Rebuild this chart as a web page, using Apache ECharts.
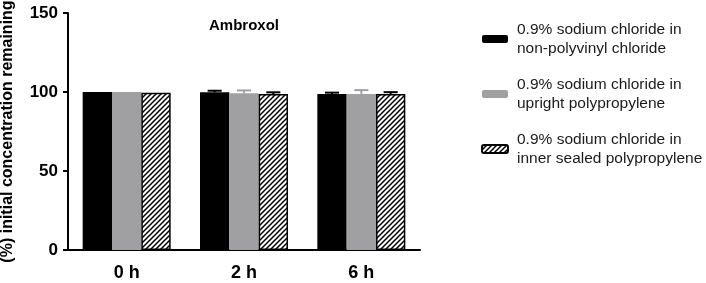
<!DOCTYPE html>
<html>
<head>
<meta charset="utf-8">
<script src="https://cdn.jsdelivr.net/npm/echarts@6/dist/echarts.min.js"></script>
<style>
  html, body { margin: 0; padding: 0; background: #fff; }
  #chartmain { width: 706px; height: 283px; }
</style>
</head>
<body>
<div id="chartmain"></div>
<script>
// categories + tick labels
var categories = ['0 h', '2 h', '6 h'];
var yTicks = [0, 50, 100, 150];

// series names
var seriesNames = [
  '0.9% sodium chloride in\nnon-polyvinyl chloride',
  '0.9% sodium chloride in\nupright polypropylene',
  '0.9% sodium chloride in\ninner sealed polypropylene'
];

// means
var nonPvc = [100, 99.8, 98.8];
var upright = [100, 99.2, 98.8];
var innerSealed = [99.5, 98.7, 98.7];

// SD (upper half only drawn)
var nonPvcErr = [0, 1.0, 0.8];
var uprightErr = [0, 1.8, 2.4];
var innerSealedErr = [0, 1.1, 1.2];

var font = 'Arial, "Liberation Sans", sans-serif';

// hatch pattern for inner sealed pp
function makeHatch() {
  var s = 5;
  var c = document.createElement('canvas');
  c.width = s; c.height = s;
  var ctx = c.getContext('2d');
  ctx.fillStyle = '#fff';
  ctx.fillRect(0, 0, s, s);
  ctx.strokeStyle = '#000';
  ctx.lineWidth = 1.5;
  ctx.beginPath();
  ctx.moveTo(-1, s + 1); ctx.lineTo(s + 1, -1);
  ctx.moveTo(-1, 1); ctx.lineTo(1, -1);
  ctx.moveTo(s - 1, s + 1); ctx.lineTo(s + 1, s - 1);
  ctx.stroke();
  return c;
}
var hatch = { image: makeHatch(), repeat: 'repeat' };

function errSeries(vals, errs, slot, color) {
  var data = vals.map(function (v, i) { return [i, v, errs[i]]; });
  return {
    type: 'custom',
    coordinateSystem: 'cartesian2d',
    z: 10,
    silent: true,
    data: data,
    encode: { x: 0, y: 1 },
    renderItem: function (params, api) {
      var e = api.value(2);
      if (!e) return null;
      var idx = api.value(0), v = api.value(1);
      var band = api.size([1, 0])[0];
      var barW = band * 0.75 / 3;
      var p0 = api.coord([idx, v]);
      var p1 = api.coord([idx, v + e]);
      var x = p0[0] + slot * barW;
      var cap = barW * 0.24;
      return {
        type: 'group',
        children: [
          { type: 'line', shape: { x1: x, y1: p0[1], x2: x, y2: p1[1] }, style: { stroke: color, lineWidth: 2 } },
          { type: 'line', shape: { x1: x - cap, y1: p1[1], x2: x + cap, y2: p1[1] }, style: { stroke: color, lineWidth: 2 } }
        ]
      };
    }
  };
}

var chart = echarts.init(document.getElementById('chartmain'));
var option = {
  animation: false,
  title: {
    text: 'Ambroxol',
    left: 239, top: 13,
    textAlign: 'center',
    textStyle: { fontFamily: font, fontSize: 15, fontWeight: 'bold', color: '#000' }
  },
  legend: {
    data: seriesNames,
    orient: 'vertical',
    left: 476, top: 15,
    itemWidth: 26, itemHeight: 8,
    itemGap: 17,
    selectedMode: false,
    textStyle: { fontFamily: font, fontSize: 15.5, lineHeight: 19, color: '#1a1a1a', padding: [0, 0, 0, 4] }
  },
  grid: { left: 68, right: 286, top: 13, bottom: 33, outerBoundsMode: 'none', containLabel: false },
  xAxis: {
    type: 'category',
    data: categories,
    axisLine: { lineStyle: { color: '#000', width: 2 } },
    axisTick: { alignWithLabel: true, length: 6, lineStyle: { color: '#000', width: 2 } },
    axisLabel: { fontFamily: font, fontSize: 18, fontWeight: 'bold', color: '#000', margin: 14 }
  },
  yAxis: {
    type: 'value',
    min: yTicks[0], max: yTicks[yTicks.length - 1], interval: 50,
    name: '(%) initial concentration remaining',
    nameLocation: 'middle',
    nameGap: 52,
    nameTextStyle: { fontFamily: font, fontSize: 16, fontWeight: 'bold', color: '#000' },
    axisLine: { show: true, lineStyle: { color: '#000', width: 2 } },
    axisTick: { show: true, length: 5, lineStyle: { color: '#000', width: 2 } },
    axisLabel: { fontFamily: font, fontSize: 17, fontWeight: 'bold', color: '#000', margin: 10 },
    splitLine: { show: false }
  },
  series: [
    { name: seriesNames[0], type: 'bar', data: nonPvc, barGap: '0%', barCategoryGap: '25%',
      itemStyle: { color: '#000' } },
    { name: seriesNames[1], type: 'bar', data: upright, barGap: '0%', barCategoryGap: '25%',
      itemStyle: { color: '#a0a0a3' } },
    { name: seriesNames[2], type: 'bar', data: innerSealed, barGap: '0%', barCategoryGap: '25%',
      itemStyle: { color: hatch, borderColor: '#000', borderWidth: 1.5 } },
    errSeries(nonPvc, nonPvcErr, -1, '#000'),
    errSeries(upright, uprightErr, 0, '#a0a0a3'),
    errSeries(innerSealed, innerSealedErr, 1, '#000')
  ]
};
chart.setOption(option);
</script>
</body>
</html>
